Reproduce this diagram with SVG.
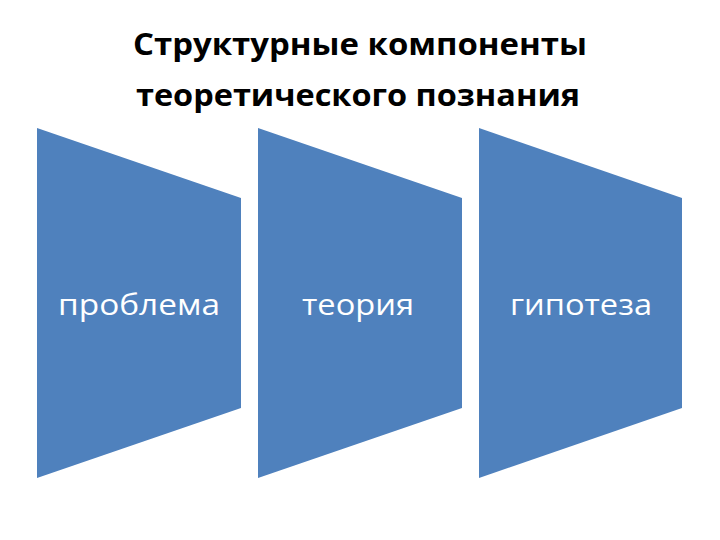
<svg xmlns="http://www.w3.org/2000/svg" width="720" height="540" viewBox="0 0 720 540">
<style>
.shape{fill:#4F81BD;}
.lbl{font-family:"Open Sans","Liberation Sans",sans-serif;font-size:30px;fill:#FFFFFF;text-anchor:middle;}
.title{font-family:"Open Sans","Liberation Sans",sans-serif;font-weight:bold;font-size:30px;fill:#000000;text-anchor:middle;}
</style>
<rect width="720" height="540" fill="#FFFFFF"/>
<g id="title">
<text class="title" x="360" y="55" textLength="454" lengthAdjust="spacingAndGlyphs">Структурные компоненты</text>
<text class="title" x="358" y="106" textLength="444" lengthAdjust="spacingAndGlyphs">теоретического познания</text>
</g>
<g id="node-problema">
<polygon class="shape" points="37,128 241,198 241,408 37,478"/>
<text class="lbl" x="139" y="315" textLength="162" lengthAdjust="spacingAndGlyphs">проблема</text>
</g>
<g id="node-teoriya">
<polygon class="shape" points="258,128 462,198 462,408 258,478"/>
<text class="lbl" x="358" y="315" textLength="112" lengthAdjust="spacingAndGlyphs">теория</text>
</g>
<g id="node-gipoteza">
<polygon class="shape" points="479,128 682,198 682,408 479,478"/>
<text class="lbl" x="581" y="315" textLength="142" lengthAdjust="spacingAndGlyphs">гипотеза</text>
</g>
<g id="connectors"/>
</svg>
